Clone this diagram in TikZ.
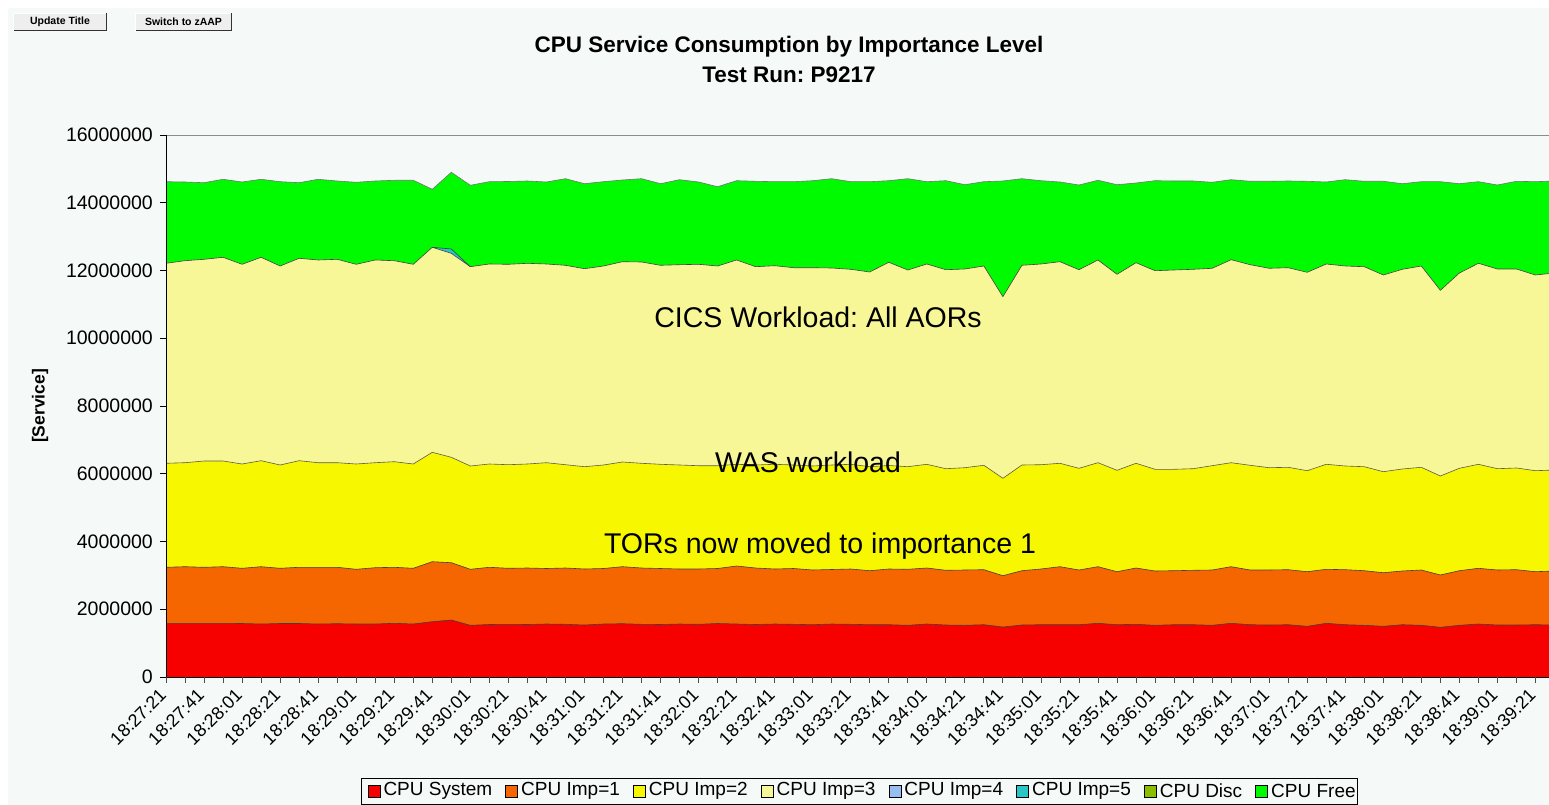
\documentclass[tikz,border=0pt]{standalone}
\usepackage{fontspec}
\setmainfont{Liberation Sans}
\usetikzlibrary{positioning}
\frenchspacing
\definecolor{bgc}{RGB}{245,249,247}
\definecolor{cSys}{RGB}{246,0,0}
\definecolor{cImpA}{RGB}{246,102,0}
\definecolor{cImpB}{RGB}{247,247,0}
\definecolor{cImpC}{RGB}{247,247,152}
\definecolor{cImpD}{RGB}{150,190,240}
\definecolor{cImpE}{RGB}{40,200,200}
\definecolor{cDisc}{RGB}{140,190,0}
\definecolor{cFree}{RGB}{0,250,0}
\definecolor{btnfill}{RGB}{238,238,238}
\newcommand\setfs[1]{\fontsize{#1}{#1}\selectfont}
\def\Glist{181.7,182,182.7,179.3,182,179.3,181.7,182.7,179.3,181,182.3,181,180.3,180.3,189.3,172.3,185.3,181.7,181.5,181,182,178.7,183.7,181.7,180,178.7,183.7,179.7,182,186.7,180.7,181.3,181.7,181.7,180.7,178.7,181.7,181.7,180.7,178.7,181.7,180.7,184.7,181.7,181,178.7,180.7,182,185,180.3,184.7,183,180.7,181,181,182.3,179.7,181.3,181.3,181,181.3,182,179.7,181.3,181.3,183.7,181.7,181.7,183.7,181.7,185,181.3,181.7,181}
\def\Llist{263.3,260.7,259.3,257.3,264.3,257.3,266,258.3,260,259.3,264.3,260,260.7,264.3,247.3,253.3,266.7,264,264.3,263.3,264,265.3,268.7,266,261.7,262,265.3,264.7,264.3,266,260,266.7,265.7,267.7,267.7,268,269.3,272,262.3,270,264,269.7,269,266,296.7,265.3,264,261.7,269.7,260,274.3,262.7,270.7,270,269.3,268.3,259.7,264.7,268.3,267.7,272.3,264,266,266.7,275,269.3,266,290.3,273,263.3,269,269,275,273}
\def\Ylist{463.3,462.7,461,461,464,460.7,465,460.7,462.7,462.7,464,462.7,461.7,464,452.3,457.3,466,464,464.7,464,462.7,464.7,466.7,465,462,463.3,464.3,465,465.7,465.7,464.3,465,464.3,465,466,465,464.3,466.7,465.5,466.7,464.3,468.7,467.7,465.3,478.3,465,464.7,463.3,468.3,462.7,470.3,463.3,469.3,469.3,468.7,465.7,462.7,465.3,467.7,467.3,470.7,464.3,466,466.7,471.7,469,467.3,476,468.3,464.3,468.7,468,470.7,470}
\def\Olist{567.3,566.7,567.3,566.7,568.3,566.7,568.3,567.3,567.3,567.3,569.3,567.7,567.3,568.3,561.7,562.7,569.3,567.3,568.3,568,568.5,568,569,568.5,566.7,568,568.5,569,569,568.5,566,568,569,568.5,570,569.5,569,570.7,569,569.3,568,570.3,570,569.7,575.7,570.7,569,566.7,570,566.7,571.7,568,571,570.7,570.3,570,566.7,570,570,569.7,571.7,569.3,569.7,570.7,572.7,571,570,575,570.7,568.3,570,569.7,571.7,571}
\def\Rlist{623.3,623.3,623.3,623.3,623.5,624,623.5,623.5,624,623.7,624,624,623.3,624,621.7,620,625.3,624.5,624.3,624.5,624,624.3,625,624,623.7,624.3,624.5,624,624.3,623.5,624,624.5,624,624.3,624.7,624,624.3,624.7,624.7,625.3,624,625,625.3,624.7,627,625,624.7,624.7,624.7,623.3,624.7,624.3,625.3,624.7,624.7,625.3,623.3,624.7,625,624.7,626.3,623.3,624.7,625.3,626.3,624.7,625.3,627.3,625.3,624,625,625,624.7,625}
\begin{document}
\begin{tikzpicture}[x=1pt,y=-1pt,
  edgeline/.style={draw=black!75,line width=0.6pt,line join=round},
  xlab/.style={font=\setfs{18},inner sep=0pt,anchor=east,rotate=45},
  ylab/.style={font=\setfs{19.5},inner sep=0pt,anchor=east},
  legsq/.style={draw=black,line width=0.6pt,minimum size=12pt,inner sep=0pt},
  legtxt/.style={font=\setfs{19},inner sep=0pt},
  btn/.style={fill=btnfill,minimum width=92pt,minimum height=17pt,inner sep=0pt,font=\bfseries\setfs{10.5}},
  annot/.style={font=\setfs{28.5},inner sep=0pt},
  ttl/.style={font=\bfseries\setfs{22.5},inner sep=0pt}]
\useasboundingbox (0,0) rectangle (1549,805);
\fill[white] (0,0) rectangle (1549,805);
\fill[bgc] (8,8) rectangle (1549,805);
% buttons
\node[btn] (b1) at (60,22) {Update Title};
\draw[black!80,line width=1pt] (b1.north east) -- (b1.south east) -- (b1.south west);
\draw[white,line width=1pt] (b1.south west) -- (b1.north west) -- (b1.north east);
\node[btn,minimum width=95pt] (b2) at (183.5,22) {Switch to zAAP};
\draw[black!80,line width=1pt] (b2.north east) -- (b2.south east) -- (b2.south west);
\draw[white,line width=1pt] (b2.south west) -- (b2.north west) -- (b2.north east);
% title
\node[ttl] (t1) at (789,47) {CPU Service Consumption by Importance Level};
\node[ttl] (t2) at (789,75) {Test Run: P9217};
% stacked areas
\begin{scope}
\clip (166,100) rectangle (1549,677);
\fill[cFree] (166,677) foreach \v [count=\i from 0] in \Glist {-- ({166+19.02*\i},\v)} -- ({166+19.02*73},677) -- cycle;
\fill[cImpE] (432.3,247.3) -- (451.3,249) -- (470.3,266.7) -- (451.3,253.3) -- cycle;
\fill[cImpC] (166,677) foreach \v [count=\i from 0] in \Llist {-- ({166+19.02*\i},\v)} -- ({166+19.02*73},677) -- cycle;
\fill[cImpB] (166,677) foreach \v [count=\i from 0] in \Ylist {-- ({166+19.02*\i},\v)} -- ({166+19.02*73},677) -- cycle;
\fill[cImpA] (166,677) foreach \v [count=\i from 0] in \Olist {-- ({166+19.02*\i},\v)} -- ({166+19.02*73},677) -- cycle;
\fill[cSys] (166,677) foreach \v [count=\i from 0] in \Rlist {-- ({166+19.02*\i},\v)} -- ({166+19.02*73},677) -- cycle;
\draw[edgeline,draw=black!55] (166,181.7) foreach \v [count=\i from 0] in \Glist {-- ({166+19.02*\i},\v)};
\draw[edgeline] (432.3,247.3) -- (451.3,249) -- (470.3,266.7);
\draw[edgeline] (166,263.3) foreach \v [count=\i from 0] in \Llist {-- ({166+19.02*\i},\v)};
\draw[edgeline,draw=black!65] (166,463.3) foreach \v [count=\i from 0] in \Ylist {-- ({166+19.02*\i},\v)};
\draw[edgeline] (166,567.3) foreach \v [count=\i from 0] in \Olist {-- ({166+19.02*\i},\v)};
\draw[edgeline] (166,623.3) foreach \v [count=\i from 0] in \Rlist {-- ({166+19.02*\i},\v)};
\end{scope}
% axes
\draw[black!45,line width=0.8pt] (166,135) -- (1549,135);
\draw[black,line width=0.8pt] (166,135) -- (166,677) -- (1549,677);
\foreach \k/\t in {0/0,1/2000000,2/4000000,3/6000000,4/8000000,5/10000000,6/12000000,7/14000000,8/16000000}{
  \draw[black,line width=0.8pt] (160,{677-67.75*\k}) -- (166,{677-67.75*\k});
  \node[ylab] (yl\k) at (153,{677-67.75*\k}) {\t};
}
\foreach \i in {0,...,72}{
  \draw[black!70,line width=0.8pt] ({166+19.02*\i},677) -- ({166+19.02*\i},683);
}
\foreach \t [count=\k from 0] in {18:27:21,18:27:41,18:28:01,18:28:21,18:28:41,18:29:01,18:29:21,18:29:41,18:30:01,18:30:21,18:30:41,18:31:01,18:31:21,18:31:41,18:32:01,18:32:21,18:32:41,18:33:01,18:33:21,18:33:41,18:34:01,18:34:21,18:34:41,18:35:01,18:35:21,18:35:41,18:36:01,18:36:21,18:36:41,18:37:01,18:37:21,18:37:41,18:38:01,18:38:21,18:38:41,18:39:01,18:39:21}{
  \node[xlab] (xl\k) at ({166+38.04*\k-3},692) {\t};
}
\node[font=\bfseries\setfs{17.5},rotate=90,inner sep=0pt] (ytitle) at (40,406) {[Service]};
% annotations
\node[annot] (a1) at (818,317) {CICS Workload: All AORs};
\node[annot] (a2) at (808,462) {WAS workload};
\node[annot] (a3) at (820,546) {TORs now moved to importance 1};
% legend
\draw[black,line width=0.8pt,fill=bgc] (361,778) rectangle (1357,804);
\node[legsq,fill=cSys] (sq1) at (374,791) {};
\node[legtxt,right=3pt of sq1] (lt1) {CPU System};
\node[legsq,fill=cImpA,right=13pt of lt1] (sq2) {};
\node[legtxt,right=3pt of sq2] (lt2) {CPU Imp=1};
\node[legsq,fill=cImpB,right=13pt of lt2] (sq3) {};
\node[legtxt,right=3pt of sq3] (lt3) {CPU Imp=2};
\node[legsq,fill=cImpC,right=13pt of lt3] (sq4) {};
\node[legtxt,right=3pt of sq4] (lt4) {CPU Imp=3};
\node[legsq,fill=cImpD,right=13pt of lt4] (sq5) {};
\node[legtxt,right=3pt of sq5] (lt5) {CPU Imp=4};
\node[legsq,fill=cImpE,right=13pt of lt5] (sq6) {};
\node[legtxt,right=3pt of sq6] (lt6) {CPU Imp=5};
\node[legsq,fill=cDisc,right=13pt of lt6] (sq7) {};
\node[legtxt,right=3pt of sq7] (lt7) {CPU Disc};
\node[legsq,fill=cFree,right=13pt of lt7] (sq8) {};
\node[legtxt,right=3pt of sq8] (lt8) {CPU Free};
\end{tikzpicture}
\end{document}
